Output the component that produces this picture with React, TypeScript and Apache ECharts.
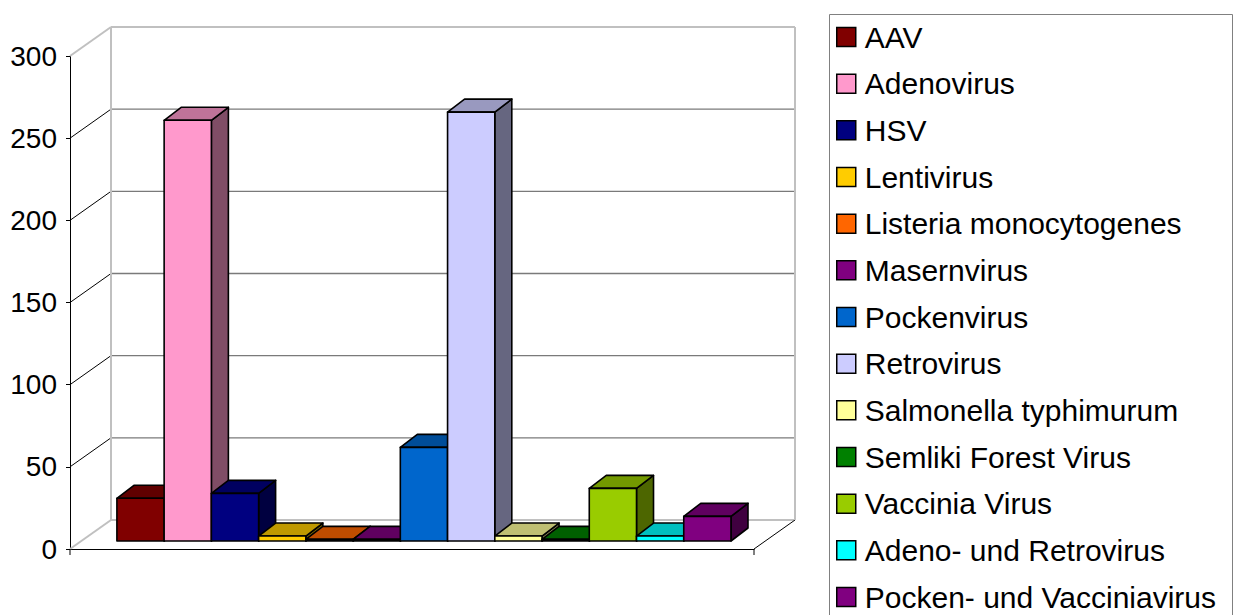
import React, { useEffect, useRef } from 'react';
import * as echarts from 'echarts';

const SERIES_NAMES = [
  'AAV',
  'Adenovirus',
  'HSV',
  'Lentivirus',
  'Listeria monocytogenes',
  'Masernvirus',
  'Pockenvirus',
  'Retrovirus',
  'Salmonella typhimurum',
  'Semliki Forest Virus',
  'Vaccinia Virus',
  'Adeno- und Retrovirus',
  'Pocken- und Vacciniavirus',
];
const SERIES_VALUES = [26, 256, 29, 3, 1, 1, 57, 261, 3, 1, 32, 3, 15];
const SERIES_COLORS = [
  '#800000', '#ff99cc', '#000080', '#ffcc00', '#ff6600', '#800080', '#0066cc',
  '#ccccff', '#ffff99', '#008000', '#99cc00', '#00ffff', '#800080',
];
const Y_TICKS = [0, 50, 100, 150, 200, 250, 300];

const X_MIN = -0.76;
const X_MAX = 13.72;
const WALL_DEPTH = [41, -29];
const BAR_FRONT = [11, -8];
const BAR_DEPTH = [17, -13];
const FONT = '"Liberation Sans", Arial, sans-serif';

function shade(hex: string, f: number): string {
  const n = parseInt(hex.slice(1), 16);
  const r = Math.round(((n >> 16) & 255) * f);
  const g = Math.round(((n >> 8) & 255) * f);
  const b = Math.round((n & 255) * f);
  return `rgb(${r},${g},${b})`;
}

export default function App() {
  const ref = useRef<HTMLDivElement | null>(null);

  useEffect(() => {
    document.body.style.margin = '0';
    const chart = echarts.init(ref.current as HTMLDivElement, null, { renderer: 'svg' });
    const yMin = Y_TICKS[0];
    const yMax = Y_TICKS[Y_TICKS.length - 1];

    const wallSeries: any = {
      type: 'custom',
      name: '__walls',
      silent: true,
      z: 1,
      data: Y_TICKS.map((v) => [X_MIN, v]),
      encode: { x: 0, y: 1 },
      renderItem: (params: any, api: any) => {
        const v = api.value(1);
        const fl = api.coord([X_MIN, v]);
        const fr = api.coord([X_MAX, v]);
        const bl = [fl[0] + WALL_DEPTH[0], fl[1] + WALL_DEPTH[1]];
        const br = [fr[0] + WALL_DEPTH[0], fr[1] + WALL_DEPTH[1]];
        const edge = v === yMin || v === yMax;
        const children: any[] = [];
        children.push({
          type: 'line',
          shape: { x1: fl[0], y1: fl[1], x2: bl[0], y2: bl[1] },
          style: { stroke: edge ? '#c0c0c0' : '#000', lineWidth: edge ? 2 : 1 },
        });
        children.push({
          type: 'line',
          shape: { x1: bl[0], y1: bl[1], x2: br[0], y2: br[1] },
          style: { stroke: edge ? '#c0c0c0' : '#7a7a7a', lineWidth: edge ? 2 : 1.3 },
        });
        if (v === yMin) {
          children.push({
            type: 'line',
            shape: { x1: fr[0], y1: fr[1], x2: br[0], y2: br[1] },
            style: { stroke: '#000', lineWidth: 1 },
          });
          children.push({
            type: 'line',
            shape: { x1: fl[0], y1: fl[1], x2: fl[0], y2: fl[1] + 6 },
            style: { stroke: '#000', lineWidth: 1 },
          });
          children.push({
            type: 'line',
            shape: { x1: fr[0], y1: fr[1], x2: fr[0], y2: fr[1] + 6 },
            style: { stroke: '#000', lineWidth: 1 },
          });
        }
        if (v === yMax) {
          const bottom = api.coord([X_MIN, yMin])[1] + WALL_DEPTH[1];
          children.push({
            type: 'line',
            shape: { x1: bl[0], y1: bl[1], x2: bl[0], y2: bottom },
            style: { stroke: '#c0c0c0', lineWidth: 2 },
          });
          children.push({
            type: 'line',
            shape: { x1: br[0], y1: br[1], x2: br[0], y2: bottom },
            style: { stroke: '#c0c0c0', lineWidth: 2 },
          });
        }
        return { type: 'group', children };
      },
    };

    const barSeries = SERIES_NAMES.map((name, i) => ({
      type: 'custom',
      name,
      z: 2,
      itemStyle: { color: SERIES_COLORS[i] },
      data: [[i, SERIES_VALUES[i]]],
      encode: { x: 0, y: 1 },
      renderItem: (params: any, api: any) => {
        const idx = api.value(0);
        const val = api.value(1);
        const p0 = api.coord([idx, 0]);
        const p1 = api.coord([idx + 1, val]);
        const xl = p0[0] + BAR_FRONT[0];
        const xr = p1[0] + BAR_FRONT[0];
        const yb = p0[1] + BAR_FRONT[1];
        const yt = p1[1] + BAR_FRONT[1];
        const dx = BAR_DEPTH[0];
        const dy = BAR_DEPTH[1];
        const c = SERIES_COLORS[i];
        const st = { stroke: '#000', lineWidth: 1.6, lineJoin: 'round' };
        return {
          type: 'group',
          children: [
            {
              type: 'polygon',
              shape: { points: [[xr, yb], [xr, yt], [xr + dx, yt + dy], [xr + dx, yb + dy]] },
              style: { fill: shade(c, 0.5), ...st },
            },
            {
              type: 'polygon',
              shape: { points: [[xl, yt], [xr, yt], [xr + dx, yt + dy], [xl + dx, yt + dy]] },
              style: { fill: shade(c, 0.75), ...st },
            },
            {
              type: 'rect',
              shape: { x: xl, y: yt, width: xr - xl, height: yb - yt },
              style: { fill: c, ...st },
            },
          ],
        };
      },
    }));

    chart.setOption({
      animation: false,
      backgroundColor: '#ffffff',
      grid: { left: 70, top: 56, width: 684, height: 493, containLabel: false },
      xAxis: {
        type: 'value',
        min: X_MIN,
        max: X_MAX,
        axisLine: { show: true, onZero: false, lineStyle: { color: '#000', width: 1 } },
        axisTick: { show: false },
        axisLabel: { show: false },
        splitLine: { show: false },
      },
      yAxis: {
        type: 'value',
        min: yMin,
        max: yMax,
        interval: 50,
        axisLine: { show: true, onZero: false, lineStyle: { color: '#000', width: 1 } },
        axisTick: { show: true, length: 4, lineStyle: { color: '#000' } },
        axisLabel: { color: '#000', fontSize: 28, fontFamily: FONT, margin: 13 },
        splitLine: { show: false },
      },
      legend: {
        data: SERIES_NAMES,
        orient: 'vertical',
        left: 836,
        top: 22,
        padding: 0,
        itemWidth: 19,
        itemHeight: 19,
        itemGap: 16.67,
        icon: 'rect',
        selectedMode: false,
        itemStyle: { borderColor: '#000', borderWidth: 1.5 },
        textStyle: {
          color: '#000',
          fontSize: 30,
          fontFamily: FONT,
          lineHeight: 30,
          padding: [0, 0, 0, 4],
        },
      },
      graphic: [
        {
          type: 'rect',
          left: 827,
          top: 12,
          shape: { width: 403, height: 640 },
          style: { fill: 'none', stroke: '#808080', lineWidth: 1 },
          silent: true,
        },
      ],
      series: [wallSeries, ...barSeries],
    });

    return () => {
      chart.dispose();
    };
  }, []);

  return (
    <div
      ref={ref}
      style={{ position: 'fixed', left: 0, top: 0, width: 1234, height: 615, background: '#fff' }}
    />
  );
}
